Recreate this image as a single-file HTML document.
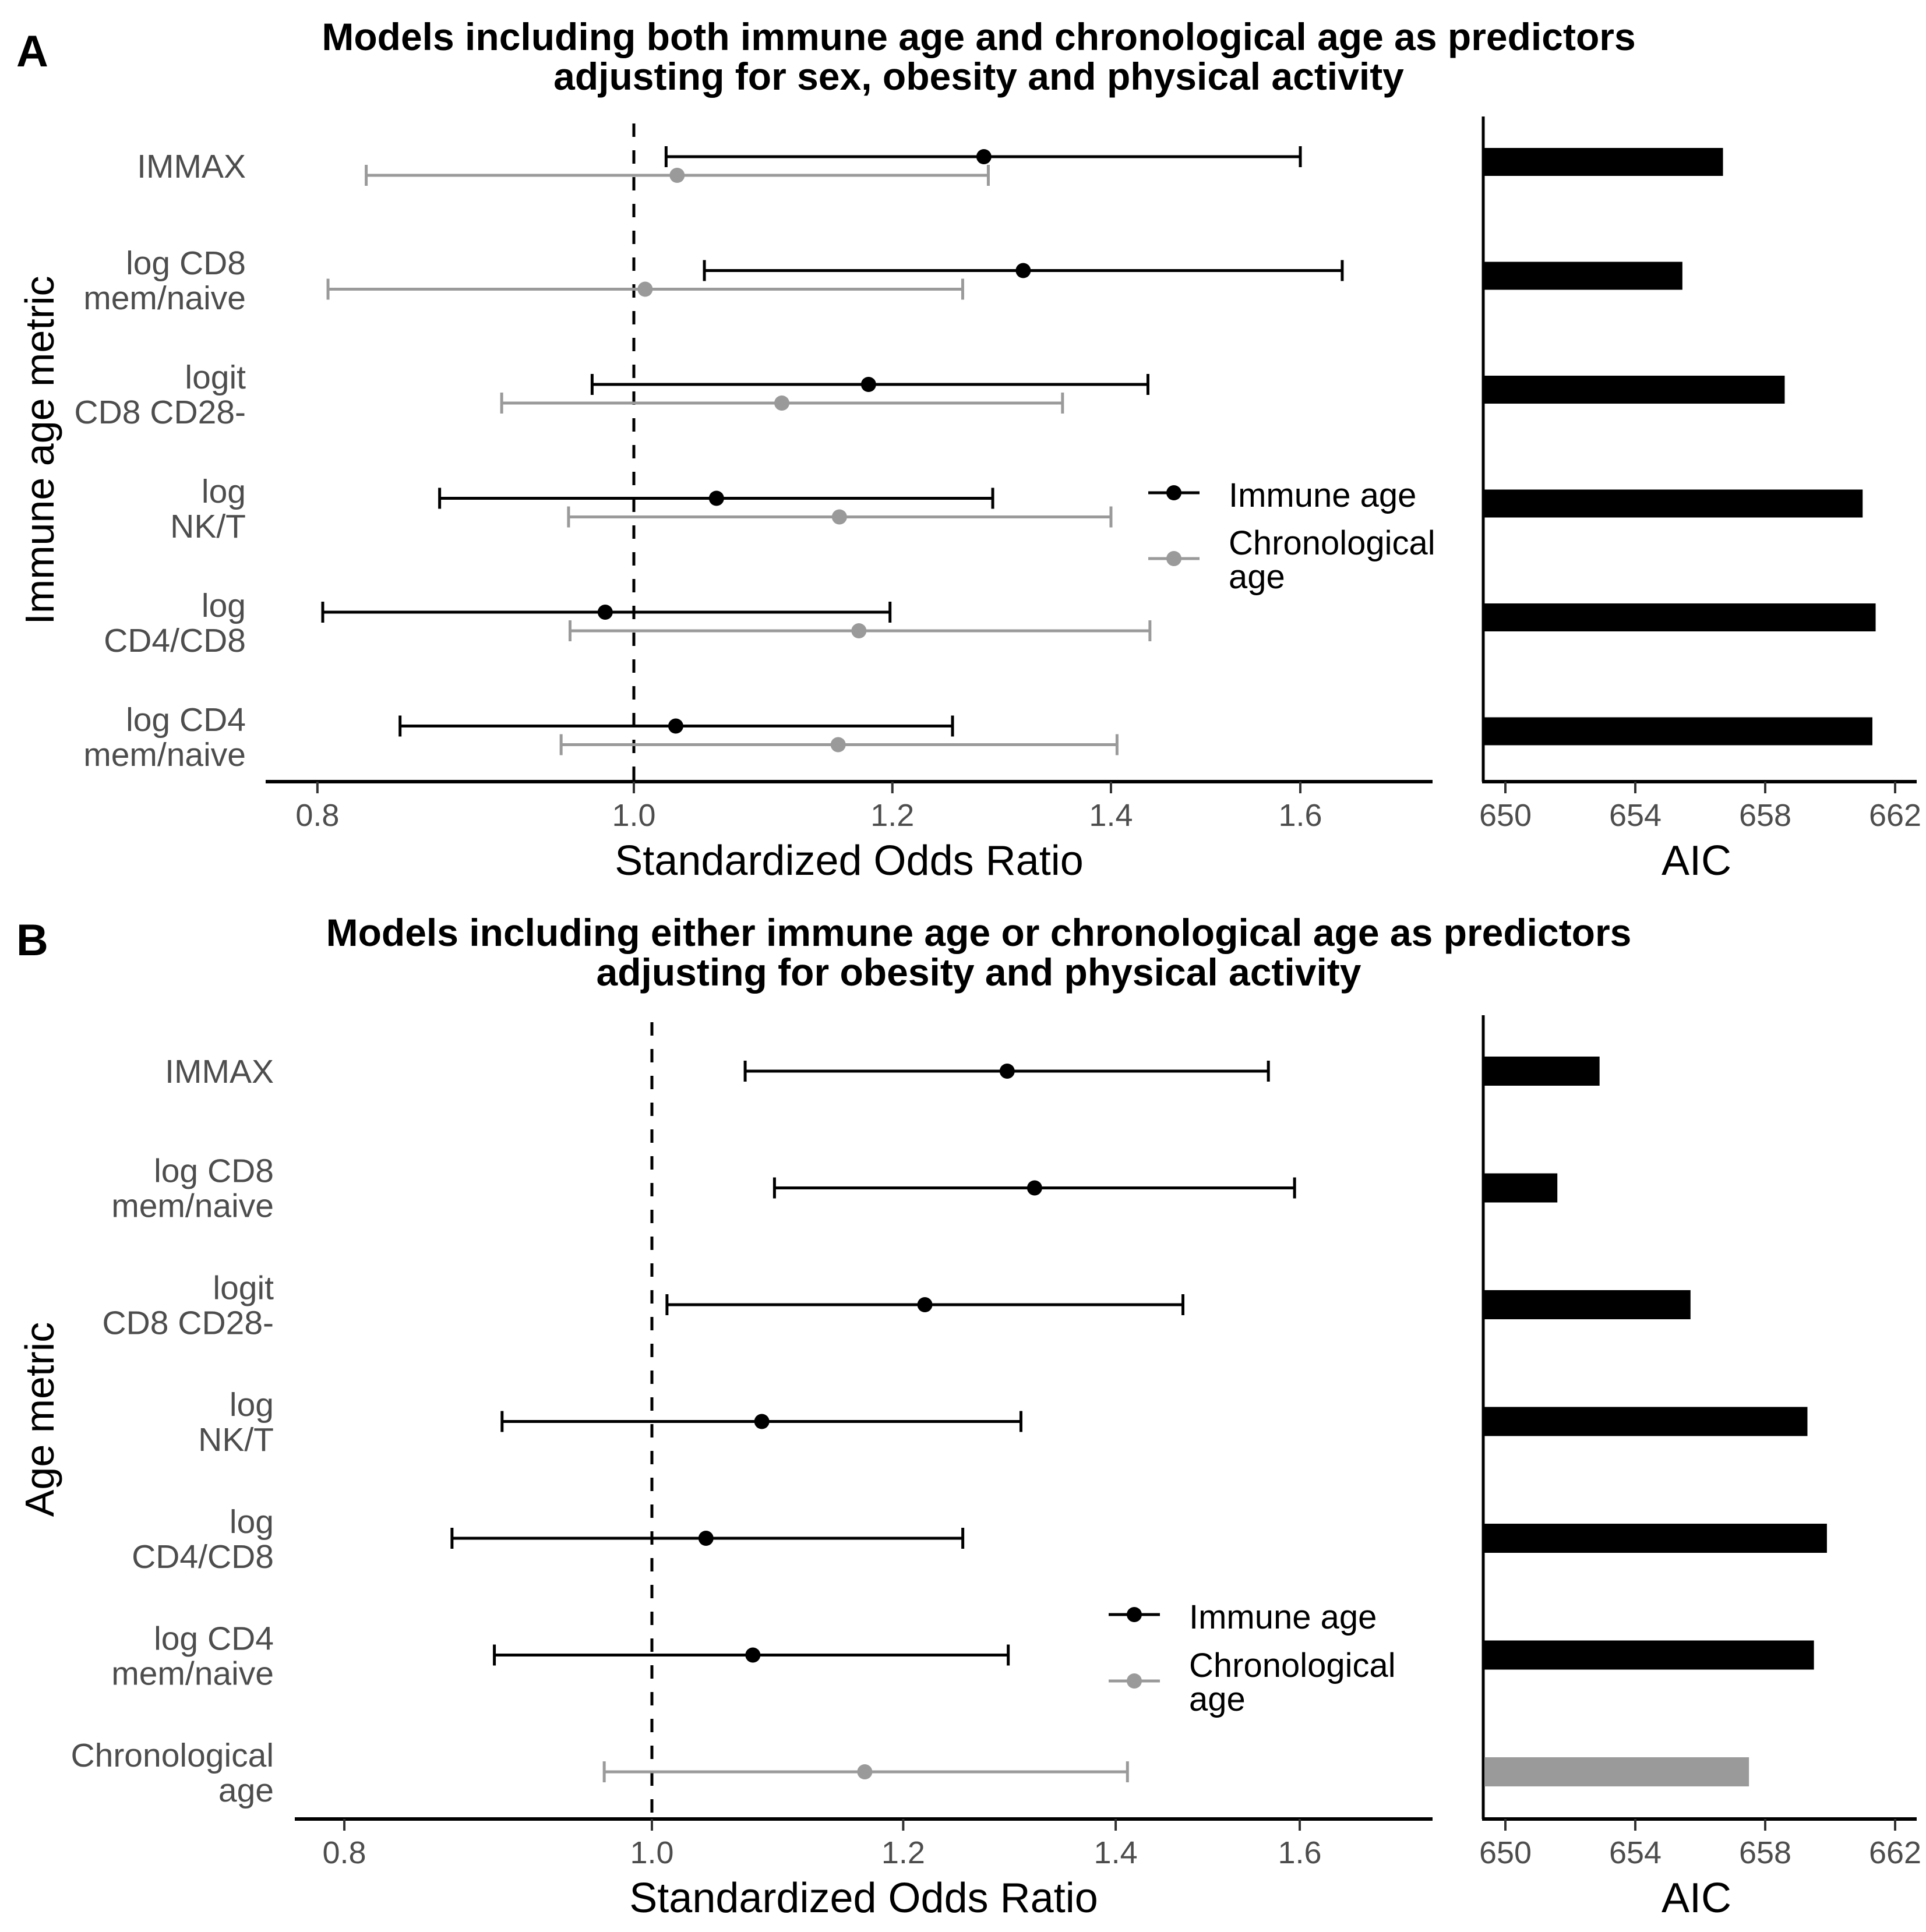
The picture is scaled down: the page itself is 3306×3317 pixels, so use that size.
<!DOCTYPE html>
<html><head><meta charset="utf-8"><style>
html,body{margin:0;padding:0;background:#fff}
svg{display:block;font-family:"Liberation Sans",Arial,sans-serif}
</style></head><body>
<svg id="fig" width="3306" height="3317" viewBox="0 0 3306 3317" xmlns="http://www.w3.org/2000/svg">
<rect width="3306" height="3317" fill="#fff"/>
<g id="gA"></g>
<g id="gB"></g>
</svg>
<script>
const catsA = [["IMMAX"],["log CD8","mem/naive"],["logit","CD8 CD28-"],["log","NK/T"],["log","CD4/CD8"],["log CD4","mem/naive"]];
const immA = [1.28,1.316,1.18,1.06,0.98,1.03];
const immLoA = [1.023,1.051,0.971,0.872,0.803,0.848];
const immHiA = [1.60,1.648,1.437,1.288,1.198,1.252];
const chrA = [1.031,1.008,1.11,1.156,1.172,1.155];
const chrLoA = [0.828,0.806,0.911,0.955,0.956,0.950];
const chrHiA = [1.284,1.261,1.353,1.40,1.439,1.406];
const aicA = [656.7,655.45,658.6,661.0,661.4,661.3];

const catsB = [["IMMAX"],["log CD8","mem/naive"],["logit","CD8 CD28-"],["log","NK/T"],["log","CD4/CD8"],["log CD4","mem/naive"],["Chronological","age"]];
const estB = [1.294,1.32,1.219,1.083,1.040,1.076,1.167];
const loB = [1.070,1.093,1.011,0.897,0.865,0.892,0.966];
const hiB = [1.564,1.594,1.47,1.307,1.253,1.295,1.412];
const typeB = ["imm","imm","imm","imm","imm","imm","chr"];
const aicB = [652.9,651.6,655.7,659.3,659.9,659.5,657.5];

const orTicks = [0.8,1.0,1.2,1.4,1.6];
const orTickLabels = ["0.8","1.0","1.2","1.4","1.6"];
const aicTicks = [650,654,658,662];

const NS="http://www.w3.org/2000/svg";
function el(p,tag,attrs,txt){const e=document.createElementNS(NS,tag);for(const k in attrs)e.setAttribute(k,attrs[k]);if(txt!==undefined)e.textContent=txt;p.appendChild(e);return e;}
const BLACK="#000", GRAY="#9a9a9a";

function panel(g, cfg){
  const xOR=v=>cfg.x1+Math.log(v)*cfg.k;
  const xAIC=v=>2584+(v-650)*55.75;
  let t=el(g,"text",{x:1680,y:cfg.titleY,"font-size":66,"font-weight":"bold","text-anchor":"middle"},cfg.title1);
  
  
  t=el(g,"text",{x:1680,y:cfg.titleY+68,"font-size":66,"font-weight":"bold","text-anchor":"middle"},cfg.title2);
  
  
  t=el(g,"text",{x:28,y:cfg.letterY,"font-size":76,"font-weight":"bold"},cfg.letter);
  
  
  t=el(g,"text",{x:0,y:0,"font-size":70,"text-anchor":"middle",transform:`translate(92,${cfg.yTitleY}) rotate(-90)`},cfg.yTitle);
  
  
  let d=el(g,"line",{x1:cfg.x1,x2:cfg.x1,y1:cfg.top,y2:cfg.axisY,stroke:"#000","stroke-width":5,"stroke-dasharray":"23,23"});
  
  
  let a=el(g,"line",{x1:cfg.axL,x2:2459,y1:cfg.axisY,y2:cfg.axisY,stroke:"#000","stroke-width":6});
  
  
  orTicks.forEach((v,i)=>{
    el(g,"line",{x1:xOR(v),x2:xOR(v),y1:cfg.axisY,y2:cfg.axisY+20,stroke:"#333","stroke-width":4});
    const tl=el(g,"text",{x:xOR(v),y:cfg.axisY+76,"font-size":54,fill:"#4d4d4d","text-anchor":"middle"},orTickLabels[i]);
    
    
  });
  t=el(g,"text",{x:(cfg.axL+2459)/2,y:cfg.axisY+160,"font-size":72,"text-anchor":"middle"},"Standardized Odds Ratio");
  
  
  a=el(g,"line",{x1:2546,x2:2546,y1:cfg.top-12,y2:cfg.axisY,stroke:"#000","stroke-width":5});
  
  
  a=el(g,"line",{x1:2544,x2:3290,y1:cfg.axisY,y2:cfg.axisY,stroke:"#000","stroke-width":6});
  
  
  aicTicks.forEach(v=>{
    el(g,"line",{x1:xAIC(v),x2:xAIC(v),y1:cfg.axisY,y2:cfg.axisY+20,stroke:"#333","stroke-width":4});
    const tl=el(g,"text",{x:xAIC(v),y:cfg.axisY+76,"font-size":54,fill:"#4d4d4d","text-anchor":"middle"},String(v));
    
    
  });
  t=el(g,"text",{x:2912,y:cfg.axisY+160,"font-size":72,"text-anchor":"middle"},"AIC");
  
  
  cfg.cats.forEach((c,i)=>{
    const yc=cfg.rowY(i);
    const lines=c.length;
    c.forEach((s,j)=>{
      const yy=yc+20+(j-(lines-1)/2)*60;
      const lt=el(g,"text",{x:cfg.labelX,y:yy,"font-size":57,fill:"#4d4d4d","text-anchor":"end"},s);
      
      
    });
  });
  function errbar(y,lo,hi,est,col,name){
    const gg=el(g,"g",{});
    
    
    el(gg,"line",{x1:xOR(lo),x2:xOR(hi),y1:y,y2:y,stroke:col,"stroke-width":5});
    el(gg,"line",{x1:xOR(lo),x2:xOR(lo),y1:y-18,y2:y+18,stroke:col,"stroke-width":5});
    el(gg,"line",{x1:xOR(hi),x2:xOR(hi),y1:y-18,y2:y+18,stroke:col,"stroke-width":5});
    el(gg,"circle",{cx:xOR(est),cy:y,r:13,fill:col});
  }
  function bar(y,v,col,h){
    const r=el(g,"rect",{x:2548,y:y-h/2,width:xAIC(v)-2548,height:h,fill:col});
    
    
  }
  cfg.draw(errbar,bar);
  const L=cfg.leg;
  const lg=el(g,"g",{});
  
  
  [[L.y1,BLACK],[L.y2,GRAY]].forEach(([y,col])=>{
    el(lg,"line",{x1:L.x,x2:L.x+88,y1:y,y2:y,stroke:col,"stroke-width":5});
    el(lg,"circle",{cx:L.x+44,cy:y,r:13,fill:col});
  });
  let lt=el(lg,"text",{x:L.x+138,y:L.y1+24,"font-size":58},"Immune age");
  
  
  lt=el(lg,"text",{x:L.x+138,y:L.y2-7,"font-size":58},"Chronological");
  
  
  el(lg,"text",{x:L.x+138,y:L.y2+51,"font-size":58},"age");
}

panel(document.getElementById("gA"),{
  title1:"Models including both immune age and chronological age as predictors",
  title2:"adjusting for sex, obesity and physical activity",
  titleY:86, letter:"A", letterY:114, yTitle:"Immune age metric", yTitleY:773,
  x1:1088, k:2434, axL:456, axisY:1342, top:212, labelX:422,
  cats:catsA, rowY:i=>285+i*196,
  leg:{x:1971,y1:846,y2:959},
  draw:(eb,bar)=>{
    catsA.forEach((c,i)=>{
      const y=285+i*195.5;
      eb(y-16,immLoA[i],immHiA[i],immA[i],BLACK,'immune-age-estimate');
      eb(y+16,chrLoA[i],chrHiA[i],chrA[i],GRAY,'chronological-age-estimate');
      bar(y-7,aicA[i],BLACK,48);
    });
  }
});
panel(document.getElementById("gB"),{
  title1:"Models including either immune age or chronological age as predictors",
  title2:"adjusting for obesity and physical activity",
  titleY:1624, letter:"B", letterY:1640, yTitle:"Age metric", yTitleY:2437,
  x1:1119, k:2366, axL:506, axisY:3123, top:1755, labelX:470,
  cats:catsB, rowY:i=>1839+i*200.7,
  leg:{x:1903,y1:2772,y2:2886},
  draw:(eb,bar)=>{
    catsB.forEach((c,i)=>{
      const y=1839+i*200.5;
      const col=typeB[i]==="imm"?BLACK:GRAY;
      eb(y,loB[i],hiB[i],estB[i],col,typeB[i]==="imm"?'immune-age-estimate':'chronological-age-estimate');
      bar(y,aicB[i],col,50);
    });
  }
});
</script>
</body></html>
